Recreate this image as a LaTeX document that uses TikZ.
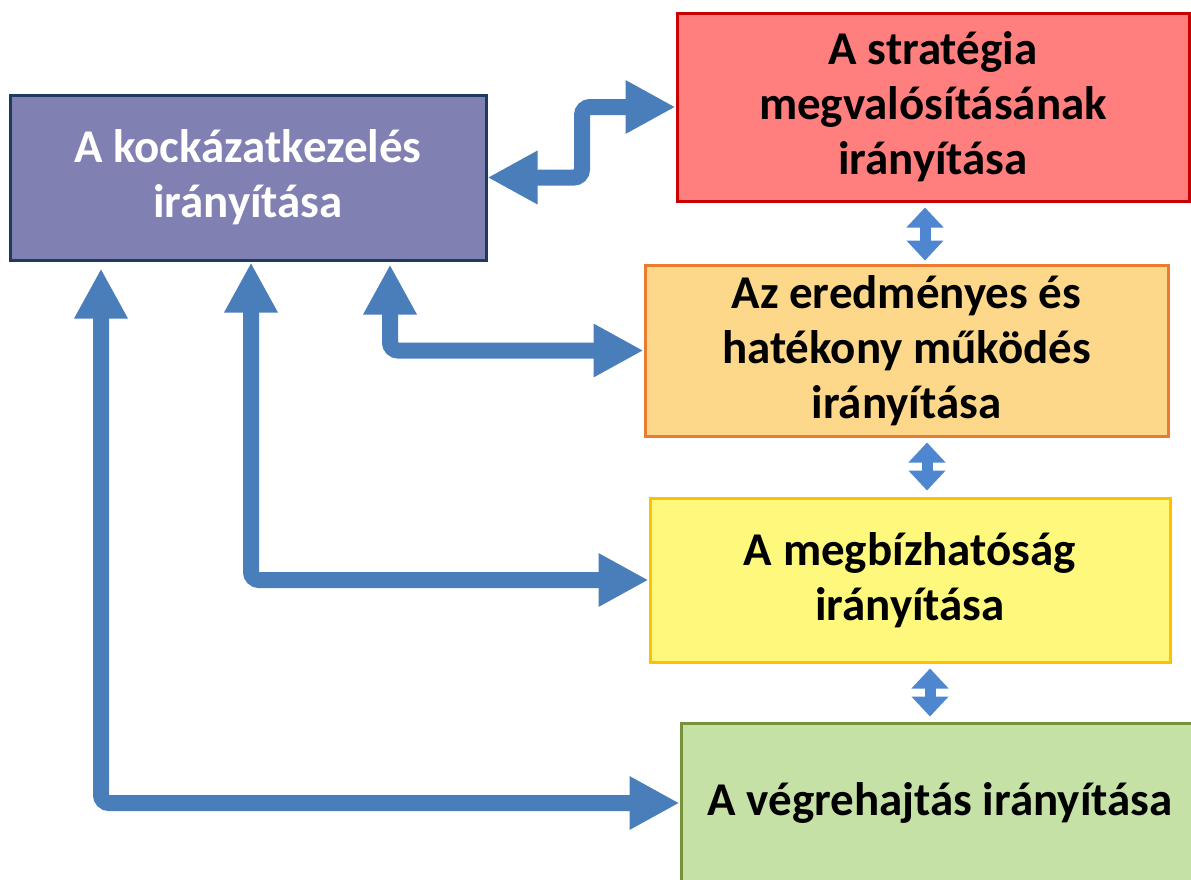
\documentclass[tikz,border=0pt]{standalone}
\usepackage{fontspec}
\setmainfont{Carlito}
\usetikzlibrary{arrows.meta}
\definecolor{arrowblue}{HTML}{4A7EBB}
\definecolor{smallblue}{HTML}{4E86CF}
\definecolor{purplefill}{HTML}{8080B2}
\definecolor{purpleline}{HTML}{1F3A60}
\definecolor{redfill}{HTML}{FF7F7F}
\definecolor{redline}{HTML}{C80000}
\definecolor{orangefill}{HTML}{FED88A}
\definecolor{orangeline}{HTML}{EB7B2E}
\definecolor{yellowfill}{HTML}{FEF87C}
\definecolor{yellowline}{HTML}{FFC000}
\definecolor{greenfill}{HTML}{C6E1A6}
\definecolor{greenline}{HTML}{76933C}
\begin{document}
\begin{tikzpicture}[x=1pt,y=-1pt,
  box/.style={draw, line width=3pt, align=center,
    font=\fontsize{47}{55}\selectfont\bfseries, inner sep=0pt, anchor=center},
  bigarrow/.style={draw=arrowblue, line width=16pt, rounded corners=8pt,
    {Triangle[width=50pt,length=50pt]}-{Triangle[width=50pt,length=50pt]}},
  smallarrow/.style={draw=smallblue, line width=11pt,
    {Triangle[width=36pt,length=20pt]}-{Triangle[width=36pt,length=20pt]}}]
\useasboundingbox (0,0) rectangle (1191,879);
\clip (0,0) rectangle (1191,879);
\node[box, draw=purpleline, fill=purplefill, text=white,
  minimum width=476pt, minimum height=165pt] (kock) at (248,177.5)
  {A kockázatkezelés\\irányítása};
\node[box, draw=redline, fill=redfill,
  minimum width=512pt, minimum height=188pt] (strat) at (933,107)
  {A stratégia\\megvalósításának\\irányítása};
\node[box, draw=orangeline, fill=orangefill,
  minimum width=523pt, minimum height=171pt] (ered) at (906.5,350.5)
  {Az eredményes és\\hatékony működés\\irányítása};
\node[box, draw=yellowline, fill=yellowfill,
  minimum width=520pt, minimum height=164pt] (megb) at (910,580)
  {A megbízhatóság\\irányítása};
\node[box, draw=greenline, fill=greenfill,
  minimum width=529pt, minimum height=160pt] (vegr) at (945.5,803)
  {A végrehajtás irányítása\hspace*{11pt}};
\coordinate (c1) at (582,140);
\coordinate (c2) at (390,352);
\coordinate (c3) at (251,580);
\coordinate (c4) at (101,803);
\draw[bigarrow] (kock.east) -| (c1) |- (strat.west);
\draw[bigarrow, shorten <=3pt] (c2 |- kock.south) |- (ered.west);
\draw[bigarrow, shorten <=1pt] (c3 |- kock.south) |- (megb.west);
\draw[bigarrow, shorten <=7pt] (c4 |- kock.south) |- (vegr.west);
\coordinate (v1) at (925,0);
\coordinate (v2) at (927,0);
\coordinate (v3) at (930,0);
\draw[smallarrow, shorten <=5pt, shorten >=3pt] (v1 |- strat.south) -- (v1 |- ered.north);
\draw[smallarrow, shorten <=5pt, shorten >=6pt] (v2 |- ered.south) -- (v2 |- megb.north);
\draw[smallarrow, shorten <=5pt, shorten >=5pt] (v3 |- megb.south) -- (v3 |- vegr.north);
\end{tikzpicture}
\end{document}
